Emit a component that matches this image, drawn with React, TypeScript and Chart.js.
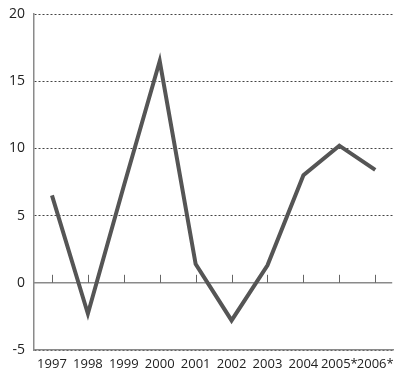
import React, { useEffect, useRef } from "react";
import { Chart, registerables } from "chart.js";

Chart.register(...registerables);

const categories = ["1997", "1998", "1999", "2000", "2001", "2002", "2003", "2004", "2005*", "2006*"];
const values = [6.5, -2.3, 7.2, 16.5, 1.4, -2.8, 1.3, 8.0, 10.2, 8.4];
const yMin = -5;
const yMax = 20;
const yStep = 5;

const zeroLinePlugin = {
  id: "zeroLine",
  beforeDatasetsDraw(chart: any) {
    const { ctx, chartArea, scales } = chart;
    const y0 = scales.y.getPixelForValue(0);
    ctx.save();
    ctx.fillStyle = "#ffffff";
    ctx.fillRect(chartArea.left + 1, y0 - 1, chartArea.right - chartArea.left, 2);
    ctx.strokeStyle = "#8a8a8a";
    ctx.lineWidth = 1.5;
    ctx.beginPath();
    ctx.moveTo(chartArea.left, y0);
    ctx.lineTo(chartArea.right - 1, y0);
    ctx.stroke();
    ctx.strokeStyle = "#666";
    ctx.lineWidth = 1;
    categories.forEach((_, i) => {
      const x = Math.round(scales.x.getPixelForValue(i)) + 0.5;
      ctx.beginPath();
      ctx.moveTo(x, y0 - 8);
      ctx.lineTo(x, y0);
      ctx.stroke();
    });
    ctx.restore();
  },
};

export default function App() {
  const ref = useRef<HTMLCanvasElement | null>(null);
  useEffect(() => {
    if (!ref.current) return;
    const chart = new Chart(ref.current, {
      type: "line",
      data: {
        labels: categories,
        datasets: [
          {
            data: values,
            borderColor: "#555555",
            borderWidth: 4,
            pointRadius: 0,
            tension: 0,
            borderJoinStyle: "miter",
            fill: false,
          },
        ],
      },
      options: {
        responsive: false,
        animation: false,
        layout: { padding: { top: 14, right: 6, bottom: 0, left: 0 } },
        plugins: { legend: { display: false }, tooltip: { enabled: false } },
        scales: {
          x: {
            offset: true,
            afterFit: (scale: any) => {
              scale.height = 24;
            },
            grid: { display: false, drawTicks: false },
            border: { display: true, color: "#8a8a8a", width: 1.5 },
            ticks: {
              color: "#222",
              font: { family: "'Open Sans'", size: 13 },
              padding: 6,
              maxRotation: 0,
              autoSkip: false,
            },
          },
          y: {
            min: yMin,
            max: yMax,
            afterFit: (scale: any) => {
              scale.width = 34;
              scale.paddingTop = 0;
              scale.paddingBottom = 0;
            },
            ticks: {
              stepSize: yStep,
              color: "#222",
              font: { family: "'Open Sans'", size: 14 },
              padding: 9,
            },
            grid: {
              drawTicks: false,
              color: "#444",
              lineWidth: 1,
            },
            border: { display: true, color: "#8a8a8a", width: 1.5, dash: [2, 2] },
          },
        },
      },
      plugins: [zeroLinePlugin],
    });
    return () => chart.destroy();
  }, []);
  return (
    <div style={{ position: "fixed", left: 0, top: 0, width: 400, height: 374, background: "#fff" }}>
      <canvas ref={ref} width={400} height={374} />
    </div>
  );
}
